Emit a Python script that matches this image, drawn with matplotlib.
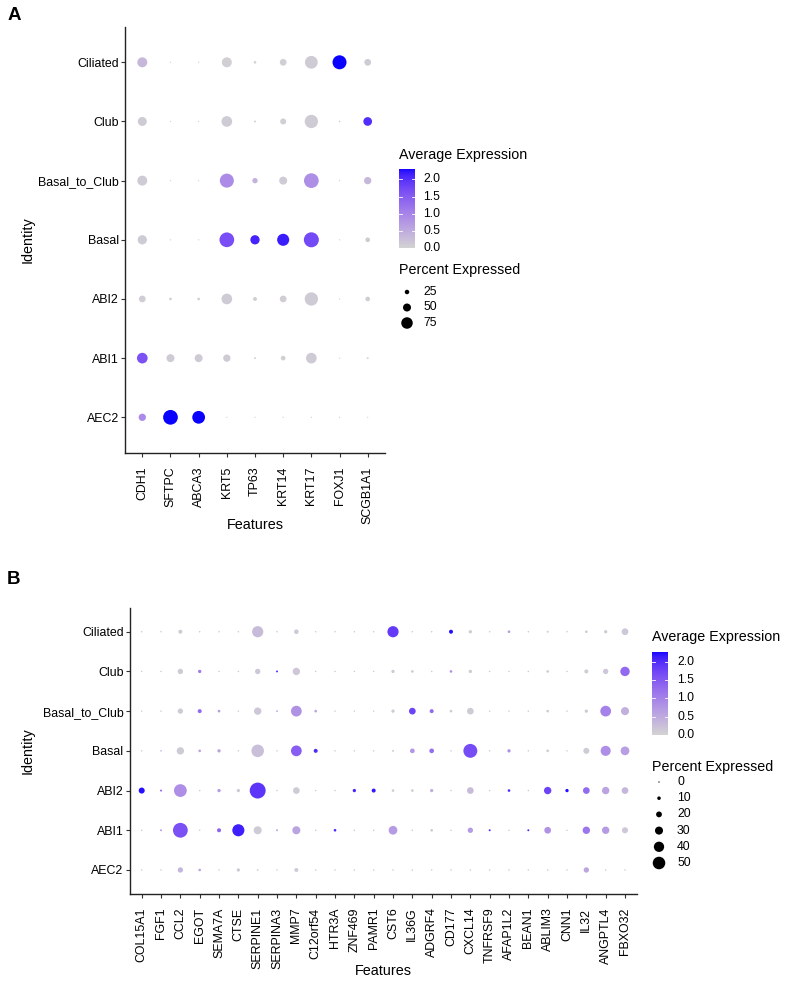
import numpy as np
import matplotlib
matplotlib.use("Agg")
import matplotlib.pyplot as plt
from matplotlib.colors import ListedColormap, Normalize

plt.rcParams['font.family'] = ['Liberation Sans', 'DejaVu Sans']

# ---------------- data ----------------
identities = ['Ciliated', 'Club', 'Basal_to_Club', 'Basal', 'ABI2', 'ABI1', 'AEC2']

features_a = ['CDH1', 'SFTPC', 'ABCA3', 'KRT5', 'TP63', 'KRT14', 'KRT17', 'FOXJ1', 'SCGB1A1']
pct_a = [
    [64, 2, 2, 64, 12, 41, 84, 93, 41],   # Ciliated
    [57, 2, 2, 69, 7, 36, 88, 5, 55],     # Club
    [64, 2, 2, 93, 31, 50, 98, 2, 45],    # Basal_to_Club
    [59, 2, 2, 98, 59, 79, 100, 2, 26],   # Basal
    [41, 12, 12, 69, 21, 41, 88, 2, 26],  # ABI2
    [69, 50, 50, 45, 7, 26, 69, 2, 7],    # ABI1
    [45, 98, 84, 2, 2, 2, 2, 2, 2],       # AEC2
]
expr_a = [
    [0.35, 0.0, 0.0, 0.05, 0.0, 0.05, 0.1, 2.29, 0.1],
    [0.1, 0.0, 0.0, 0.1, 0.0, 0.05, 0.1, 0.05, 2.0],
    [0.1, 0.0, 0.0, 0.9, 0.4, 0.1, 0.85, 0.0, 0.35],
    [0.1, 0.0, 0.0, 1.65, 2.1, 2.15, 1.7, 0.0, 0.1],
    [0.08, 0.05, 0.05, 0.1, 0.05, 0.08, 0.1, 0.0, 0.08],
    [1.6, 0.1, 0.1, 0.1, 0.0, 0.05, 0.1, 0.0, 0.0],
    [0.9, 2.29, 2.29, 0.0, 0.0, 0.0, 0.0, 0.0, 0.0],
]
cbar_breaks_a = [0.0, 0.5, 1.0, 1.5, 2.0]
vmax_a = 2.3
size_breaks_a = [25, 50, 75]

features_b = ['COL15A1', 'FGF1', 'CCL2', 'EGOT', 'SEMA7A', 'CTSE', 'SERPINE1', 'SERPINA3',
              'MMP7', 'C12orf54', 'HTR3A', 'ZNF469', 'PAMR1', 'CST6', 'IL36G', 'ADGRF4',
              'CD177', 'CXCL14', 'TNFRSF9', 'AFAP1L2', 'BEAN1', 'ABLIM3', 'CNN1', 'IL32',
              'ANGPTL4', 'FBXO32']
pct_b = [
    [1, 1, 12, 1, 1, 1, 44, 1, 15, 1, 1, 1, 1, 44, 1, 1, 12, 9, 1, 6, 1, 3, 1, 6, 9, 24],
    [1, 1, 18, 9, 1, 1, 18, 3, 27, 1, 1, 1, 1, 9, 6, 1, 6, 9, 1, 1, 1, 6, 1, 12, 18, 36],
    [1, 1, 18, 12, 6, 1, 27, 2, 42, 6, 1, 1, 1, 9, 24, 12, 6, 24, 1, 1, 1, 6, 1, 9, 42, 30],
    [1, 1, 27, 6, 9, 1, 50, 1, 42, 12, 1, 1, 1, 3, 15, 15, 1, 56, 1, 9, 1, 6, 1, 21, 39, 33],
    [21, 3, 51, 1, 9, 9, 65, 1, 24, 1, 1, 9, 12, 6, 6, 9, 1, 24, 1, 6, 1, 27, 9, 24, 27, 24],
    [1, 3, 60, 1, 12, 48, 30, 3, 30, 1, 6, 1, 1, 33, 1, 6, 1, 18, 3, 1, 3, 24, 1, 27, 27, 21],
    [1, 1, 18, 6, 1, 9, 2, 1, 12, 1, 1, 1, 1, 1, 1, 1, 1, 1, 1, 1, 1, 1, 1, 18, 1, 1],
]
expr_b = [
    [0.1, 0.1, 0.1, 0.1, 0.1, 0.1, 0.3, 0.1, 0.1, 0.1, 0.1, 0.1, 0.1, 1.85, 0.1, 0.1, 2.2, 0.1, 0.1, 0.7, 0.1, 0.1, 0.1, 0.1, 0.1, 0.15],
    [0.1, 0.1, 0.1, 1.1, 0.1, 0.1, 0.15, 1.9, 0.15, 0.1, 0.1, 0.1, 0.1, 0.1, 0.1, 0.1, 0.8, 0.1, 0.1, 0.1, 0.1, 0.1, 0.1, 0.1, 0.15, 1.3],
    [0.1, 0.1, 0.1, 1.3, 0.7, 0.1, 0.15, 0.6, 0.8, 0.6, 0.1, 0.1, 0.1, 0.1, 1.75, 1.3, 0.1, 0.1, 0.1, 0.1, 0.1, 0.1, 0.1, 0.1, 1.0, 0.45],
    [0.1, 0.5, 0.1, 0.6, 0.6, 0.1, 0.25, 0.1, 1.45, 2.0, 0.1, 0.1, 0.1, 0.1, 0.75, 1.25, 0.1, 1.65, 0.1, 0.8, 0.1, 0.1, 0.1, 0.1, 0.85, 0.65],
    [2.2, 1.4, 0.85, 0.1, 0.7, 0.1, 1.9, 0.1, 0.1, 0.1, 0.1, 2.05, 2.15, 0.1, 0.1, 0.45, 0.1, 0.3, 0.1, 2.0, 0.1, 1.75, 2.2, 1.3, 0.6, 0.35],
    [0.1, 0.7, 1.6, 0.1, 1.4, 2.1, 0.1, 0.6, 0.6, 0.1, 2.0, 0.1, 0.1, 0.7, 0.1, 0.1, 0.1, 0.7, 2.0, 0.1, 2.0, 0.8, 0.1, 1.15, 0.7, 0.15],
    [0.1, 0.1, 0.35, 0.55, 0.1, 0.1, 0.1, 0.1, 0.1, 0.1, 0.1, 0.1, 0.1, 0.1, 0.1, 0.1, 0.1, 0.1, 0.1, 0.1, 0.1, 0.1, 0.1, 0.55, 0.1, 0.1],
]
cbar_breaks_b = [0.0, 0.5, 1.0, 1.5, 2.0]
vmax_b = 2.27
size_breaks_b = [0, 10, 20, 30, 40, 50]

# ---------------- colour map: lightgrey -> blue interpolated in Lab ----------------
def _srgb_to_lab(rgb):
    c = np.asarray(rgb, float)
    lin = np.where(c <= 0.04045, c / 12.92, ((c + 0.055) / 1.055) ** 2.4)
    M = np.array([[0.4124, 0.3576, 0.1805], [0.2126, 0.7152, 0.0722], [0.0193, 0.1192, 0.9505]])
    xyz = M @ lin / np.array([0.95047, 1.0, 1.08883])
    d = 6 / 29
    f = np.where(xyz > d ** 3, np.cbrt(xyz), xyz / (3 * d * d) + 4 / 29)
    return np.array([116 * f[1] - 16, 500 * (f[0] - f[1]), 200 * (f[1] - f[2])])

def _lab_to_srgb(lab):
    L, a, b = lab
    fy = (L + 16) / 116
    fx = fy + a / 500
    fz = fy - b / 200
    d = 6 / 29
    f = np.array([fx, fy, fz])
    xyz = np.where(f > d, f ** 3, 3 * d * d * (f - 4 / 29)) * np.array([0.95047, 1.0, 1.08883])
    M = np.array([[0.4124, 0.3576, 0.1805], [0.2126, 0.7152, 0.0722], [0.0193, 0.1192, 0.9505]])
    lin = np.clip(np.linalg.solve(M, xyz), 0, 1)
    return np.where(lin <= 0.0031308, 12.92 * lin, 1.055 * lin ** (1 / 2.4) - 0.055).clip(0, 1)

lab_lo = _srgb_to_lab([211 / 255, 211 / 255, 211 / 255])
lab_hi = _srgb_to_lab([0, 0, 1])
cmap = ListedColormap([_lab_to_srgb(lab_lo + t * (lab_hi - lab_lo)) for t in np.linspace(0, 1, 256)])

# ---------------- figure ----------------
DPI = 100
W, H = 787, 981
fig = plt.figure(figsize=(W / DPI, H / DPI), dpi=DPI)

def frect(l, t, r, b):
    return [l / W, 1 - b / H, (r - l) / W, (b - t) / H]

def size_a(p):
    return ((1.0 + 0.14 * np.asarray(p, float)) * 72 / DPI) ** 2

def size_b(p):
    return ((1.3 + 0.225 * np.asarray(p, float)) * 72 / DPI) ** 2

TXT = '#000000'

def dot_panel(box, feats, pct, expr, vmax, size_fn):
    ax = fig.add_axes(frect(*box))
    n, m = len(feats), len(identities)
    xs, ys, ss, cs = [], [], [], []
    for i in range(m):
        for j in range(n):
            xs.append(j)
            ys.append(m - 1 - i)
            ss.append(pct[i][j])
            cs.append(expr[i][j])
    ax.scatter(xs, ys, s=size_fn(ss), c=cs, cmap=cmap, norm=Normalize(0, vmax),
               linewidths=0, zorder=3)
    ax.set_xlim(-0.6, n - 0.4)
    ax.set_ylim(-0.6, m - 0.4)
    ax.set_xticks(range(n))
    ax.set_xticklabels(feats, rotation=90)
    ax.set_yticks(range(m))
    ax.set_yticklabels(identities[::-1])
    for s in ['top', 'right']:
        ax.spines[s].set_visible(False)
    for s in ['left', 'bottom']:
        ax.spines[s].set_color('#222222')
        ax.spines[s].set_linewidth(1.0)
    ax.tick_params(axis='both', length=2.9, width=0.8, color='#333333', labelsize=8.9,
                   labelcolor=TXT)
    ax.tick_params(axis='y', pad=1.8)
    ax.tick_params(axis='x', pad=7.0)
    return ax

def legend(x_bar, bar_w, title_y, bar_top, bar_bot, vmax, breaks, size_title_y,
           size_vals, row0, step, size_fn, dot_x, label_x):
    fig.text(x_bar / W, 1 - title_y / H, 'Average Expression', fontsize=10.3,
             ha='left', va='center', color=TXT)
    cax = fig.add_axes(frect(x_bar, bar_top, x_bar + bar_w, bar_bot))
    cax.imshow(np.linspace(0, vmax, 256)[:, None], aspect='auto', cmap=cmap,
               norm=Normalize(0, vmax), origin='lower', extent=[0, 1, 0, vmax])
    for b in breaks:
        cax.plot([0, 0.2], [b, b], color='white', lw=0.6)
        cax.plot([0.8, 1], [b, b], color='white', lw=0.6)
    cax.set_xlim(0, 1)
    cax.set_ylim(0, vmax)
    cax.axis('off')
    px_per_unit = (bar_bot - bar_top) / vmax
    for b in breaks:
        fig.text(label_x / W, 1 - (bar_bot - b * px_per_unit) / H, f'{b:.1f}',
                 fontsize=8.8, ha='left', va='center', color=TXT)
    fig.text(x_bar / W, 1 - size_title_y / H, 'Percent Expressed', fontsize=10.3,
             ha='left', va='center', color=TXT)
    lax = fig.add_axes([0, 0, 1, 1], facecolor='none')
    lax.set_xlim(0, W)
    lax.set_ylim(H, 0)
    lax.axis('off')
    yy = [row0 + k * step for k in range(len(size_vals))]
    lax.scatter([dot_x] * len(size_vals), yy, s=size_fn(size_vals), c='black', linewidths=0)
    for v, y in zip(size_vals, yy):
        lax.text(label_x, y, str(v), fontsize=8.8, ha='left', va='center', color=TXT)

# Panel A
boxA = (125.4, 26.8, 384.6, 452.8)
dot_panel(boxA, features_a, pct_a, expr_a, vmax_a, size_a)
fig.text(14 / W, 1 - 15 / H, 'A', fontsize=13.5, fontweight='bold', ha='center', va='center')
fig.text(28 / W, 1 - ((boxA[1] + boxA[3]) / 2) / H, 'Identity', rotation=90,
         fontsize=10.4, ha='center', va='center', color=TXT)
fig.text(((boxA[0] + boxA[2]) / 2) / W, 1 - 525 / H, 'Features', fontsize=10.4,
         ha='center', va='center', color=TXT)
legend(399, 16, 155, 169, 248.3, vmax_a, cbar_breaks_a, 270, size_breaks_a,
       292, 15.5, size_a, 407, 423)

# Panel B
boxB = (130.1, 607.9, 636.6, 893.8)
dot_panel(boxB, features_b, pct_b, expr_b, vmax_b, size_b)
fig.text(14 / W, 1 - 580 / H, 'B', fontsize=13.5, fontweight='bold', ha='center', va='center')
fig.text(28 / W, 1 - ((boxB[1] + boxB[3]) / 2) / H, 'Identity', rotation=90,
         fontsize=10.4, ha='center', va='center', color=TXT)
fig.text(((boxB[0] + boxB[2]) / 2) / W, 1 - 971 / H, 'Features', fontsize=10.4,
         ha='center', va='center', color=TXT)
legend(652, 16, 637, 651.7, 735.3, vmax_b, cbar_breaks_b, 767, size_breaks_b,
       782, 16.2, size_b, 659, 677)

fig.savefig('out.png', dpi=DPI)
